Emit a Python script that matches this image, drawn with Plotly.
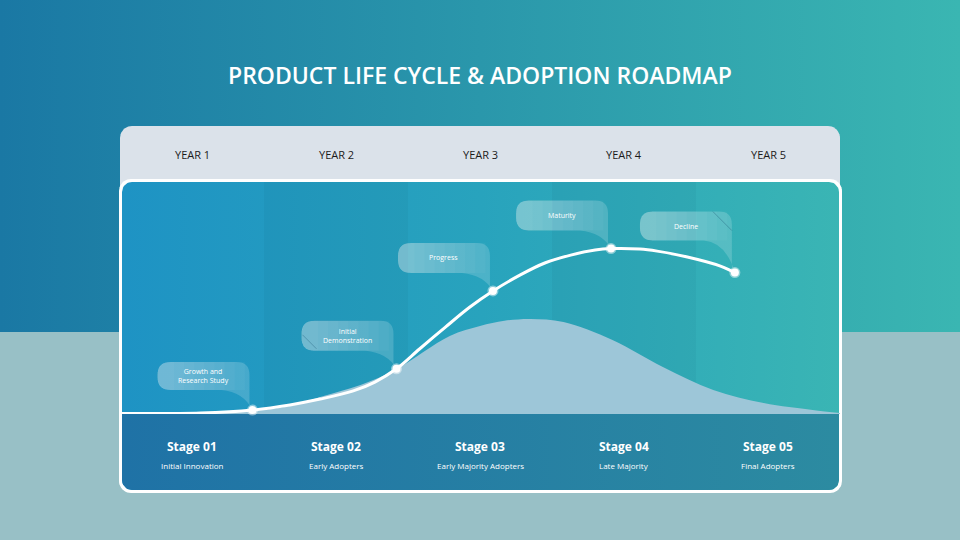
import math
import plotly.graph_objects as go

# ---------------- data ----------------
years = ["YEAR 1", "YEAR 2", "YEAR 3", "YEAR 4", "YEAR 5"]
stages = ["Stage 01", "Stage 02", "Stage 03", "Stage 04", "Stage 05"]
stage_names = ["Initial Innovation", "Early Adopters", "Early Majority Adopters",
               "Late Majority", "Final Adopters"]

milestones = ["Growth and<br>Research Study", "Initial<br>Demonstration",
              "Progress", "Maturity", "Decline"]
milestone_x = [0.92, 1.92, 2.59, 3.41, 4.27]
milestone_y = [1.7, 19.4, 52.8, 71.0, 60.7]

curve_x = [0.0, 0.56, 0.92, 1.18, 1.39, 1.62, 1.77, 1.92, 2.08, 2.26, 2.43,
           2.59, 2.78, 2.95, 3.13, 3.30, 3.41, 3.61, 3.73, 3.94, 4.17, 4.27]
curve_y = [0.2, 0.4, 1.7, 3.9, 6.4, 9.9, 13.7, 19.4, 27.9, 37.3, 45.9,
           52.8, 59.7, 64.8, 68.2, 70.4, 71.0, 70.8, 69.9, 67.4, 63.5, 60.7]

bell_x = [0.0, 0.56, 0.92, 1.18, 1.39, 1.67, 1.92, 2.29, 2.5, 2.67, 2.85,
          3.08, 3.42, 3.77, 4.12, 4.47, 4.81, 5.0]
bell_y = [0.0, 0.2, 1.3, 3.4, 7.3, 12.4, 19.3, 33.5, 37.8, 40.0, 40.8,
          39.5, 31.8, 20.2, 10.3, 4.7, 1.7, 0.4]

title = "PRODUCT LIFE CYCLE & ADOPTION ROADMAP"

# ---------------- styling helpers ----------------
FONT = "Open Sans"
W, H = 960, 540


def rrect(x0, y0, x1, y1, rtl=0, rtr=0, rbr=0, rbl=0, n=10):
    """Rounded rectangle outline in pixel space (y grows downward)."""
    xs, ys = [], []

    def arc(cx, cy, r, a0, a1):
        if r <= 0:
            xs.append(cx); ys.append(cy); return
        for i in range(n + 1):
            a = math.radians(a0 + (a1 - a0) * i / n)
            xs.append(cx + r * math.cos(a)); ys.append(cy + r * math.sin(a))

    arc(x0 + rtl, y0 + rtl, rtl, 180, 270)
    arc(x1 - rtr, y0 + rtr, rtr, 270, 360)
    arc(x1 - rbr, y1 - rbr, rbr, 0, 90)
    arc(x0 + rbl, y1 - rbl, rbl, 90, 180)
    xs.append(xs[0]); ys.append(ys[0])
    return xs, ys


def deco(xs, ys, color=None, grad=None):
    kw = dict(x=xs, y=ys, mode="lines", fill="toself", line=dict(width=0),
              hoverinfo="skip", showlegend=False, xaxis="x", yaxis="y")
    if grad:
        kw["fillgradient"] = dict(type="horizontal", colorscale=grad)
        kw["fillcolor"] = grad[0][1]
    else:
        kw["fillcolor"] = color
    return go.Scatter(**kw)


fig = go.Figure()

# page background (pixel-space subplot x/y)
fig.add_trace(deco(*rrect(0, 0, 960, 332), grad=[[0, "#1a78a4"], [1, "#3ab6b2"]]))
fig.add_trace(deco(*rrect(0, 332, 960, 540), color="#98c0c6"))
# header band
fig.add_trace(deco(*rrect(120, 126, 840, 195, 12, 12, 0, 0), color="#dbe2ea"))
# white frame
fig.add_trace(deco(*rrect(119, 179, 842, 493, 12, 12, 12, 12), color="#ffffff"))
# body
fig.add_trace(deco(*rrect(122, 182, 839, 490, 10, 10, 10, 10),
                   grad=[[0, "#1e93c4"], [0.5, "#28a3bd"], [1, "#3ab5b4"]]))
# subtle alternate column shading
for cx0, cx1 in [(264, 408), (552, 696)]:
    fig.add_trace(deco(*rrect(cx0, 182, cx1, 490), color="rgba(0,40,80,0.045)"))
# bottom stage band
fig.add_trace(deco(*rrect(122, 414, 839, 490, 0, 0, 10, 10),
                   grad=[[0, "#1f72a6"], [1, "#2c8ba1"]]))

# ---------------- data subplot (x2/y2) ----------------
fig.add_trace(go.Scatter(
    x=bell_x, y=bell_y, mode="lines", fill="tozeroy",
    line=dict(shape="spline", smoothing=1.0, width=0, color="#9dc6d8"),
    fillcolor="#9dc6d8", xaxis="x2", yaxis="y2", hoverinfo="skip", showlegend=False))

fig.add_trace(go.Scatter(
    x=curve_x, y=curve_y, mode="lines",
    line=dict(shape="spline", smoothing=1.0, width=3, color="#ffffff"),
    xaxis="x2", yaxis="y2", hoverinfo="skip", showlegend=False))

fig.add_trace(go.Scatter(
    x=milestone_x, y=milestone_y, mode="markers",
    marker=dict(size=8, color="#ffffff", line=dict(color="rgba(255,255,255,0.45)", width=3)),
    xaxis="x2", yaxis="y2", hoverinfo="skip", showlegend=False, cliponaxis=False))

# callout bubbles anchored on each milestone (pixel offsets)
bubble_bottom = [20, 18, 18, 18, 32]
bubble_h = [28, 30, 30, 30, 29]
bubble_w = 92
bubble_rx = -3
R = 13


def bubble_path(b, h, w=bubble_w, rx=bubble_rx, r=R):
    L = rx - w
    T = b + h
    return (f"M {L + r},{T} L {rx - r},{T} Q {rx},{T} {rx},{T - r} "
            f"L {rx},6 L 0,0 Q {rx - 6},{b - 2} {rx - 28},{b} "
            f"L {L + r},{b} Q {L},{b} {L},{b + r} L {L},{T - r} Q {L},{T} {L + r},{T} Z")


def left_part(b, h, frac, w=bubble_w, rx=bubble_rx, r=R):
    L = rx - w
    T = b + h
    xr = L + max(r + 1, w * frac)
    return (f"M {L + r},{T} L {xr},{T} L {xr},{b} L {L + r},{b} "
            f"Q {L},{b} {L},{b + r} L {L},{T - r} Q {L},{T} {L + r},{T} Z")


shapes = []
annotations = []
for i, (mx, my) in enumerate(zip(milestone_x, milestone_y)):
    common = dict(type="path", xref="x2", yref="y2", xsizemode="pixel", ysizemode="pixel",
                  xanchor=mx, yanchor=my, line=dict(width=0), layer="below")
    shapes.append(dict(common, path=bubble_path(bubble_bottom[i], bubble_h[i]),
                       fillcolor="rgba(255,255,255,0.17)"))
    for k in range(8):
        frac = 0.95 - k * 0.11
        shapes.append(dict(common, path=left_part(bubble_bottom[i], bubble_h[i], frac),
                           fillcolor="rgba(255,255,255,0.035)"))
    annotations.append(dict(
        x=mx, y=my, xref="x2", yref="y2", showarrow=False,
        xanchor="center", yanchor="middle",
        xshift=bubble_rx - bubble_w / 2, yshift=bubble_bottom[i] + bubble_h[i] / 2,
        text=milestones[i], align="center",
        font=dict(family=FONT, size=7, color="#ffffff")))

# thin fold lines decorating two of the bubbles
fold = {1: (-94, 34, -80, 20), 4: (-22, 61, -3, 42)}
for i, (fx0, fy0, fx1, fy1) in fold.items():
    shapes.append(dict(type="line", xref="x2", yref="y2", xsizemode="pixel",
                       ysizemode="pixel", xanchor=milestone_x[i], yanchor=milestone_y[i],
                       x0=fx0, y0=fy0, x1=fx1, y1=fy1,
                       line=dict(color="rgba(20,80,110,0.35)", width=1), layer="below"))

# column labels
for i in range(5):
    annotations.append(dict(x=i + 0.5, y=1 - 155 / H, xref="x2", yref="paper",
                            xanchor="center", yanchor="middle",
                            text=years[i], showarrow=False,
                            font=dict(family=FONT, size=11, color="#1b1b1b")))
    annotations.append(dict(x=i + 0.5, y=1 - 447 / H, xref="x2", yref="paper",
                            xanchor="center", yanchor="middle",
                            text=stages[i], showarrow=False,
                            font=dict(family=FONT, size=12, color="#ffffff", weight=700)))
    annotations.append(dict(x=i + 0.5, y=1 - 465 / H, xref="x2", yref="paper",
                            xanchor="center", yanchor="middle",
                            text=stage_names[i], showarrow=False,
                            font=dict(family=FONT, size=8, color="#ffffff")))

annotations.append(dict(x=0.5, y=1 - 75 / H, xref="paper", yref="paper",
                        xanchor="center", yanchor="middle",
                        text=title, showarrow=False,
                        font=dict(family=FONT, size=23, color="#ffffff", weight=600)))

fig.update_layout(
    width=W, height=H, autosize=False,
    margin=dict(l=0, r=0, t=0, b=0, pad=0),
    paper_bgcolor="#1f86ae", plot_bgcolor="rgba(0,0,0,0)",
    showlegend=False,
    xaxis=dict(domain=[0, 1], range=[0, W], visible=False, fixedrange=True),
    yaxis=dict(domain=[0, 1], range=[H, 0], visible=False, fixedrange=True),
    xaxis2=dict(domain=[120 / W, 840 / W], range=[0, 5], visible=False,
                anchor="y2", fixedrange=True),
    yaxis2=dict(domain=[1 - 414 / H, 1 - 181 / H], range=[0, 100], visible=False,
                anchor="x2", fixedrange=True),
    shapes=shapes,
    annotations=annotations,
)

fig.write_html("out.html", config=dict(displayModeBar=False),
               post_script="document.body.style.margin='0';document.body.style.overflow='hidden';")
